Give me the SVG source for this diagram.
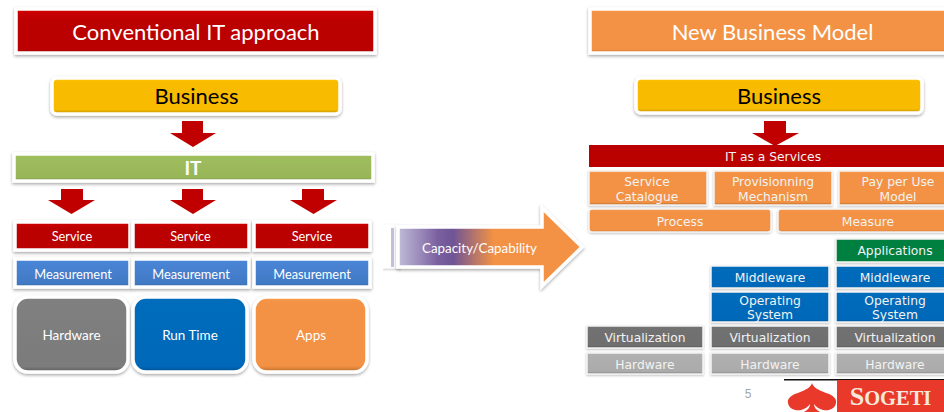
<svg xmlns="http://www.w3.org/2000/svg" width="944" height="412" viewBox="0 0 944 412">
<style>
text{text-anchor:middle;font-family:Lato,"Open Sans",sans-serif;fill:#fff}
.v text{font-family:"DejaVu Sans",Verdana,sans-serif;font-size:12.300px;fill:#f2f2f2}
.b{stroke:#fff;stroke-width:3.500;filter:url(#sh)}
.t{stroke:#f4f4f4;stroke-width:1.500;filter:url(#sh2)}
.red{fill:url(#gRed)}.yel{fill:url(#gYel)}.grn{fill:url(#gGrn)}.stl{fill:url(#gStl)}.blu{fill:url(#gBlu)}.org{fill:url(#gOrg)}.gry{fill:url(#gGry)}.vrt{fill:url(#gVrt)}.hw{fill:url(#gHw)}
.ar{fill:#c00000}
.f13{font-size:12.800px}
.f14{font-size:13.500px}
.f22{font-size:22px}
</style>
<defs>
<filter id="sh" x="-10%" y="-20%" width="120%" height="150%"><feDropShadow dx="0" dy="1.500" stdDeviation="1.500" flood-color="#000" flood-opacity=".35"/></filter>
<filter id="sh2" x="-5%" y="-10%" width="110%" height="125%"><feDropShadow dx="0" dy="1" stdDeviation="1" flood-color="#000" flood-opacity=".25"/></filter>
<linearGradient id="gRed" x1="0" y1="0" x2="0" y2="1"><stop offset="0" stop-color="#d00000"/><stop offset=".25" stop-color="#bb0000"/><stop offset=".92" stop-color="#bb0000"/><stop offset="1" stop-color="#8a0000"/></linearGradient>
<linearGradient id="gYel" x1="0" y1="0" x2="0" y2="1"><stop offset="0" stop-color="#ffc800"/><stop offset=".12" stop-color="#f8bb00"/><stop offset=".88" stop-color="#f8bb00"/><stop offset="1" stop-color="#bd8e00"/></linearGradient>
<linearGradient id="gGrn" x1="0" y1="0" x2="0" y2="1"><stop offset="0" stop-color="#a0bf5e"/><stop offset=".88" stop-color="#98b558"/><stop offset="1" stop-color="#6f8741"/></linearGradient>
<linearGradient id="gStl" x1="0" y1="0" x2="0" y2="1"><stop offset="0" stop-color="#4a86d8"/><stop offset=".88" stop-color="#4179c4"/><stop offset="1" stop-color="#2f5a94"/></linearGradient>
<linearGradient id="gBlu" x1="0" y1="0" x2="0" y2="1"><stop offset="0" stop-color="#006cbc"/><stop offset=".93" stop-color="#0068b8"/><stop offset="1" stop-color="#004c88"/></linearGradient>
<linearGradient id="gOrg" x1="0" y1="0" x2="0" y2="1"><stop offset="0" stop-color="#f79a4d"/><stop offset=".08" stop-color="#f39244"/><stop offset=".92" stop-color="#f39244"/><stop offset="1" stop-color="#b86a2c"/></linearGradient>
<linearGradient id="gGry" x1="0" y1="0" x2="0" y2="1"><stop offset="0" stop-color="#808080"/><stop offset=".93" stop-color="#7b7b7b"/><stop offset="1" stop-color="#585858"/></linearGradient>
<linearGradient id="gVrt" x1="0" y1="0" x2="0" y2="1"><stop offset="0" stop-color="#727272"/><stop offset=".9" stop-color="#6e6e6e"/><stop offset="1" stop-color="#505050"/></linearGradient>
<linearGradient id="gHw" x1="0" y1="0" x2="0" y2="1"><stop offset="0" stop-color="#b0b0b0"/><stop offset=".88" stop-color="#ababab"/><stop offset="1" stop-color="#808080"/></linearGradient>
<linearGradient id="gArrow" x1="398" y1="0" x2="582" y2="0" gradientUnits="userSpaceOnUse"><stop offset="0" stop-color="#c0bcd8"/><stop offset=".22" stop-color="#7a5f9f"/><stop offset=".3" stop-color="#6f5596"/><stop offset=".52" stop-color="#f39244"/><stop offset="1" stop-color="#f39244"/></linearGradient>
</defs>

<g id="connectors">
<path class="ar" d="M182 121h21v12h13l-23 14-23-14h12z"/>
<path class="ar" d="M61 189h22v11h12l-23.500 14-23.500-14h13z"/>
<path class="ar" d="M182 189h21v11h13l-23 14-23-14h12z"/>
<path class="ar" d="M302 189h22v11h13l-23.500 14-23.500-14h12z"/>
</g>

<g id="left-title"><rect class="b red" x="16" y="9" width="359" height="44"/><text class="f22" x="196" y="40">Conventional IT approach</text></g>
<g id="left-business"><rect class="b yel" x="52" y="78" width="288" height="36" rx="5"/><text class="f22" x="196.500" y="104" style="fill:#000">Business</text></g>
<g id="left-it"><rect class="b grn" x="14" y="154" width="359" height="27"/><text x="193" y="175" style="font-size:19px;font-weight:700">IT</text></g>

<g id="service-1"><rect class="b red" x="15" y="222" width="115" height="28"/><text class="f13" x="72" y="241">Service</text></g>
<g id="service-2"><rect class="b red" x="133" y="222" width="116" height="28"/><text class="f13" x="190.500" y="241">Service</text></g>
<g id="service-3"><rect class="b red" x="254" y="222" width="116" height="28"/><text class="f13" x="312" y="241">Service</text></g>
<g id="measurement-1"><rect class="b stl" x="15" y="259" width="115" height="28"/><text class="f13" x="73" y="279">Measurement</text></g>
<g id="measurement-2"><rect class="b stl" x="133" y="259" width="116" height="28"/><text class="f13" x="191" y="279">Measurement</text></g>
<g id="measurement-3"><rect class="b stl" x="254" y="259" width="116" height="28"/><text class="f13" x="312" y="279">Measurement</text></g>
<g id="hardware-left"><rect class="b gry" x="15" y="297" width="113" height="75" rx="13"/><text class="f14" x="71.500" y="340">Hardware</text></g>
<g id="runtime-left"><rect class="b blu" x="133" y="297" width="114" height="75" rx="13"/><text class="f14" x="190" y="340">Run Time</text></g>
<g id="apps-left"><rect class="b org" x="254" y="297" width="113" height="75" rx="13"/><text class="f14" x="311" y="340">Apps</text></g>

<g id="capacity-arrow">
<rect x="384" y="226" width="16" height="41" fill="#fff" stroke="#fff" stroke-width="3" filter="url(#sh2)"/>
<rect x="391" y="228" width="3" height="39" fill="#c4c0dc"/>
<path class="b" fill="url(#gArrow)" d="M398 227H542V208L582 247 542 286V267H398z"/>
<text x="479.500" y="253" style="font-size:13.400px">Capacity/Capability</text>
</g>

<g id="right-title"><rect class="b org" x="590" y="9" width="360" height="44"/><text class="f22" x="772.500" y="40">New Business Model</text></g>
<g id="right-business"><rect class="b yel" x="636" y="78" width="286" height="35" rx="5"/><text class="f22" x="779" y="104" style="fill:#000">Business</text></g>
<g id="right-arrow"><path class="ar" d="M764 121h22v12h13l-24 13-23-13h12z"/></g>

<g class="v">
<g id="it-services"><rect x="589" y="145" width="360" height="22" fill="#bb0000"/><text x="773" y="161">IT as a Services</text></g>
<g id="catalogue"><rect class="t org" x="589" y="171" width="118" height="34"/><text x="647" y="186">Service</text><text x="647" y="201">Catalogue</text></g>
<g id="provisioning"><rect class="t org" x="714" y="171" width="118" height="34"/><text x="773" y="186">Provisionning</text><text x="773" y="201">Mechanism</text></g>
<g id="pay"><rect class="t org" x="839" y="171" width="110" height="34"/><text x="898" y="186">Pay per Use</text><text x="898" y="201">Model</text></g>
<g id="process"><rect class="t org" x="589" y="209" width="182" height="23" rx="3"/><text x="680" y="226">Process</text></g>
<g id="measure"><rect class="t org" x="778" y="209" width="171" height="23" rx="3"/><text x="868" y="226">Measure</text></g>
<g id="applications"><rect class="t" fill="#068040" x="836" y="239" width="113" height="23"/><text x="895" y="255">Applications</text></g>
<g id="middleware-1"><rect class="t blu" x="711" y="266" width="118" height="22"/><text x="770" y="282">Middleware</text></g>
<g id="middleware-2"><rect class="t blu" x="836" y="266" width="113" height="22"/><text x="895" y="282">Middleware</text></g>
<g id="os-1"><rect class="t blu" x="711" y="292" width="118" height="30"/><text x="770" y="305">Operating</text><text x="770" y="319">System</text></g>
<g id="os-2"><rect class="t blu" x="836" y="292" width="113" height="30"/><text x="895" y="305">Operating</text><text x="895" y="319">System</text></g>
<g id="virt-1"><rect class="t vrt" x="587" y="326" width="116" height="22"/><text x="645" y="342">Virtualization</text></g>
<g id="virt-2"><rect class="t vrt" x="711" y="326" width="118" height="22"/><text x="770" y="342">Virtualization</text></g>
<g id="virt-3"><rect class="t vrt" x="836" y="326" width="113" height="22"/><text x="895" y="342">Virtualization</text></g>
<g id="hw-1"><rect class="t hw" x="587" y="353" width="116" height="21"/><text x="645" y="369">Hardware</text></g>
<g id="hw-2"><rect class="t hw" x="711" y="353" width="118" height="21"/><text x="770" y="369">Hardware</text></g>
<g id="hw-3"><rect class="t hw" x="836" y="353" width="113" height="21"/><text x="895" y="369">Hardware</text></g>
</g>

<text x="748" y="398" style="font-size:12px;fill:#a6a6a6;font-family:'Liberation Sans',sans-serif">5</text>

<g id="logo">
<rect x="784" y="379" width="160" height="33" fill="#fff"/>
<rect x="784" y="379" width="160" height="1.500" fill="#111"/>
<rect x="837" y="380" width="107" height="32" fill="#e8392a"/>
<path fill="#e8392a" d="M812 383C813 387 818 390 826 393 833 395 837 399 836 403 835 409 829 411 823 410 819 409 816 407 814 404 814 407 816 410 820 412H804C808 410 810 407 810 404 808 407 805 409 801 410 795 411 789 409 788 403 787 399 791 395 798 393 806 390 811 387 812 383z"/>
<text x="890.500" y="405" style="font-family:'Liberation Serif',serif;font-weight:700;font-size:26px;fill:#f6e9dc">S<tspan style="font-size:20.500px">OGETI</tspan></text>
</g>
</svg>
